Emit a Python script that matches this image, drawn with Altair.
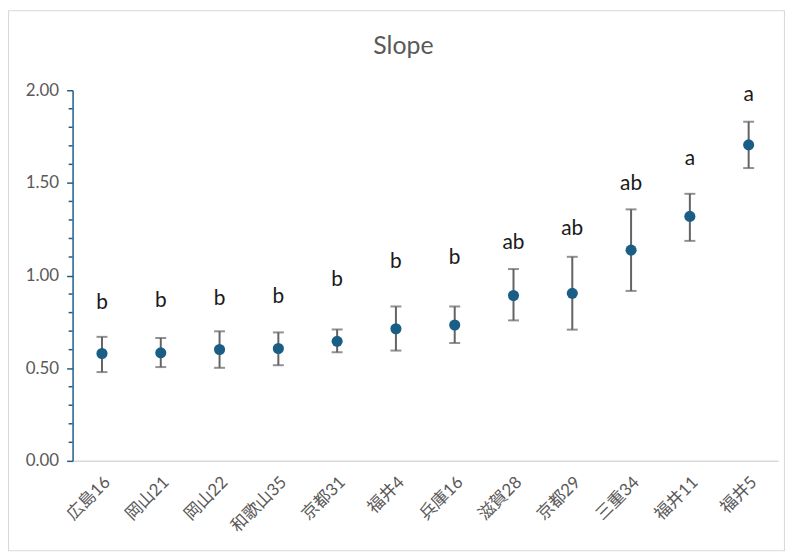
import altair as alt
import pandas as pd

categories = ["広島16", "岡山21", "岡山22", "和歌山35", "京都31", "福井4",
              "兵庫16", "滋賀28", "京都29", "三重34", "福井11", "福井5"]
slope = [0.579, 0.583, 0.601, 0.606, 0.645, 0.713, 0.733, 0.892, 0.904, 1.137, 1.319, 1.705]
upper = [0.669, 0.663, 0.699, 0.693, 0.709, 0.833, 0.833, 1.035, 1.101, 1.357, 1.441, 1.830]
lower = [0.479, 0.506, 0.502, 0.516, 0.586, 0.595, 0.636, 0.758, 0.708, 0.917, 1.187, 1.580]
letters = ["b", "b", "b", "b", "b", "b", "b", "ab", "ab", "ab", "a", "a"]
letter_y = [0.853, 0.860, 0.872, 0.886, 0.976, 1.074, 1.097, 1.173, 1.253, 1.494, 1.628, 1.973]
major_ticks = [0.0, 0.5, 1.0, 1.5, 2.0]
minor_ticks = [0.1, 0.2, 0.3, 0.4, 0.6, 0.7, 0.8, 0.9, 1.1, 1.2, 1.3, 1.4, 1.6, 1.7, 1.8, 1.9]
title_text = ["Slope"]

df = pd.DataFrame({"cat": categories, "slope": slope, "upper": upper,
                   "lower": lower, "letter": letters, "ly": letter_y})
minor_df = pd.DataFrame({"v": minor_ticks})
title_df = pd.DataFrame({"t": title_text})

FONT = "Lato, 'Noto Sans CJK JP', sans-serif"
AXIS_BLUE = "#1f5d86"
GRAY = "#595959"

x_enc = alt.X("cat:N", sort=categories, title=None,
              scale=alt.Scale(paddingInner=0, paddingOuter=0),
              axis=alt.Axis(labelAngle=-45, labelColor=GRAY, labelFontSize=17,
                            labelFont=FONT, ticks=False, domainColor="#d9d9d9",
                            domainWidth=1.5, labelPadding=13, grid=False))
y_scale = alt.Scale(domain=[0, 2], nice=False, zero=True)
y_axis = alt.Axis(values=major_ticks, format=".2f", labelColor=GRAY, labelFontSize=17,
                  labelFont=FONT, tickColor=AXIS_BLUE, tickSize=6, tickWidth=1.5,
                  domainColor=AXIS_BLUE, domainWidth=1.5, labelPadding=8, grid=False)


def Y(field):
    return alt.Y(field, scale=y_scale, axis=y_axis, title=None)


base = alt.Chart(df)

border = alt.Chart(title_df).mark_rect(fill=None, stroke="#d9d9d9", strokeWidth=1.2).encode(
    x=alt.value(-64.5), x2=alt.value(716.5), y=alt.value(-80), y2=alt.value(463.5))

title = alt.Chart(title_df).mark_text(font=FONT, fontSize=25, color=GRAY,
                                      baseline="alphabetic").encode(
    x=alt.value(333), y=alt.value(-36), text="t:N")

minor = alt.Chart(minor_df).mark_rule(color=AXIS_BLUE, strokeWidth=1.5).encode(
    x=alt.value(-4), x2=alt.value(0), y=Y("v:Q"))

bars = base.mark_rule(color="#636363", strokeWidth=2).encode(
    x=x_enc, y=Y("lower:Q"), y2="upper:Q")

cap_hi = base.mark_tick(color="#636363", thickness=2, size=11).encode(
    x=x_enc, y=Y("upper:Q"))
cap_lo = base.mark_tick(color="#636363", thickness=2, size=11).encode(
    x=x_enc, y=Y("lower:Q"))

pts = base.mark_circle(color="#1a5e86", opacity=1, size=125).encode(
    x=x_enc, y=Y("slope:Q"))

txt = base.mark_text(font=FONT, fontSize=21, color="#1a1a1a", baseline="middle").encode(
    x=x_enc, y=Y("ly:Q"), text="letter:N")

chart = alt.layer(border, title, minor, bars, cap_hi, cap_lo, pts, txt).properties(
    width=710, height=373,
    autosize=alt.AutoSizeParams(type="none"),
    padding={"left": 65, "top": 81, "right": 7, "bottom": 91},
    background="white",
).configure_view(strokeWidth=0, stroke="transparent")

chart.save("out.html", embed_options={"renderer": "svg", "actions": False})
